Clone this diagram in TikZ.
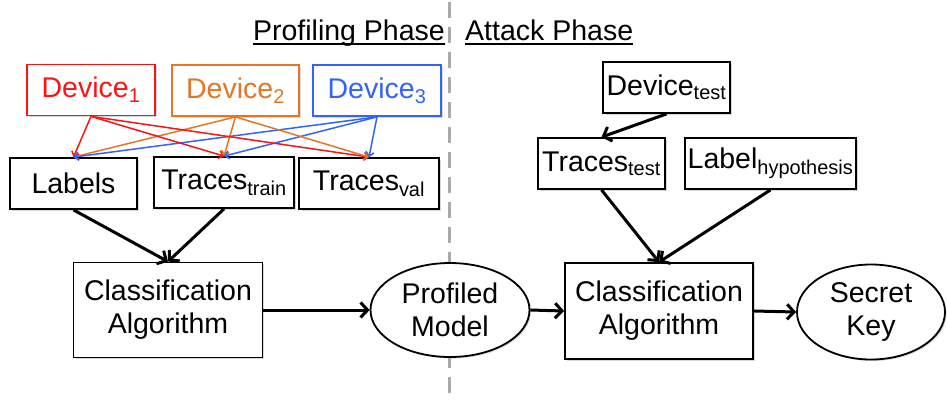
\documentclass[tikz,border=0pt]{standalone}
\usepackage{fontspec}
\setmainfont{Liberation Sans}
\usetikzlibrary{arrows.meta,shadows,shapes.geometric,calc}
\definecolor{devred}{RGB}{250,20,20}
\definecolor{devorange}{RGB}{228,118,40}
\definecolor{devblue}{RGB}{50,100,250}
\definecolor{dashgray}{RGB}{170,170,170}
\begin{document}
\begin{tikzpicture}[x=1pt,y=-1pt,
  every node/.style={font=\fontsize{28.5}{33}\selectfont, inner sep=0pt},
  box/.style={draw, line width=1.8pt, fill=white, align=center,
    drop shadow={shadow xshift=1.5pt, shadow yshift=-1.5pt, opacity=0.3}},
  oval/.style={ellipse, draw, line width=1.8pt, fill=white, align=center,
    drop shadow={shadow xshift=1.5pt, shadow yshift=-1.5pt, opacity=0.3}},
  thin arrow/.style={-{Straight Barb[length=4pt,width=8pt]}, line width=1.5pt},
  thick arrow/.style={-{Straight Barb[length=7pt,width=15pt]}, line width=3pt},
  title/.style={font=\fontsize{28.5}{33}\selectfont}
]
\useasboundingbox (0,0) rectangle (947,399);
\fill[white] (0,0) rectangle (947,399);

% phase divider
\draw[dashgray, line width=3pt, dash pattern=on 16pt off 9pt] (449,2) -- (449,399);

% titles
\node[title, anchor=base east] (tprof) at (445,40) {Profiling Phase};
\draw[line width=1.6pt] ($(tprof.base west)+(0,4)$) -- ($(tprof.base east)+(0,4)$);
\node[title, anchor=base west] (tatt) at (465,40) {Attack Phase};
\draw[line width=1.6pt] ($(tatt.base west)+(0,4)$) -- ($(tatt.base east)+(0,4)$);

% profiling phase nodes
\node[box, draw=devred, text=devred, minimum width=128pt, minimum height=51pt] (d1) at (91,90) {Device\textsubscript{1}};
\node[box, draw=devorange, text=devorange, minimum width=127pt, minimum height=51pt] (d2) at (235.5,90.5) {Device\textsubscript{2}};
\node[box, draw=devblue, text=devblue, minimum width=128pt, minimum height=51pt] (d3) at (377,90.5) {Device\textsubscript{3}};

\node[box, minimum width=127pt, minimum height=51pt] (lab) at (73.5,183.5) {Labels};
\node[box, minimum width=140pt, minimum height=51pt] (ttr) at (224,182.5) {Traces\textsubscript{train}};
\node[box, minimum width=140pt, minimum height=51pt] (tva) at (369,183.5) {Traces\textsubscript{val}};

\node[box, minimum width=189pt, minimum height=95pt] (c1) at (168,310) {Classification\\Algorithm};
\node[oval, minimum width=159pt, minimum height=94pt] (pm) at (450,310) {Profiled\\Model};

% attack phase nodes
\node[box, minimum width=127pt, minimum height=51pt] (dt) at (666.5,87.5) {Device\textsubscript{test}};
\node[box, minimum width=127pt, minimum height=51pt] (tte) at (601.5,163.5) {Traces\textsubscript{test}};
\node[box, minimum width=171pt, minimum height=51pt] (lh) at (770.5,163.5) {Label\textsubscript{hypothesis}};
\node[box, minimum width=188pt, minimum height=96pt] (c2) at (659,311) {Classification\\Algorithm};
\node[oval, minimum width=148pt, minimum height=95pt] (sk) at (871,312) {Secret\\Key};

% coloured connectors
\foreach \t in {lab,ttr,tva}{
  \draw[thin arrow, devred] (d1.south) -- (\t.north);
  \draw[thin arrow, devorange] (d2.south) -- (\t.north);
  \draw[thin arrow, devblue] (d3.south) -- (\t.north);
}

% black connectors
\draw[thick arrow] (lab.south) -- (c1.north);
\draw[thick arrow] (ttr.south) -- (c1.north);
\draw[thick arrow] (c1.east) -- (pm.west);
\draw[thick arrow] (pm.east) -- (c2.west);
\draw[thick arrow] (dt.south) -- (tte.north);
\draw[thick arrow] (tte.south) -- (c2.north);
\draw[thick arrow] (lh.south) -- (c2.north);
\draw[thick arrow] (c2.east) -- (sk.west);
\end{tikzpicture}
\end{document}
